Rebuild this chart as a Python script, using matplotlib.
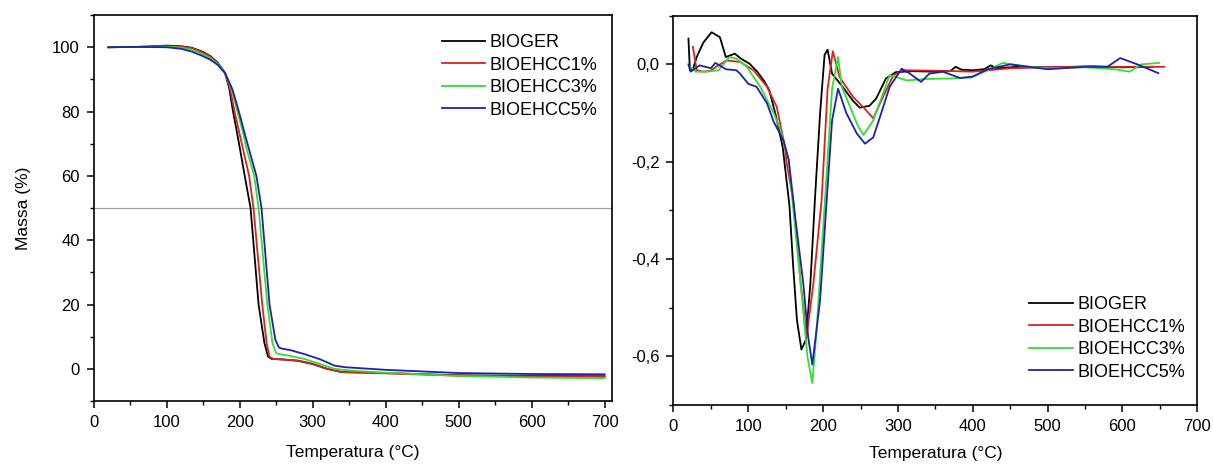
import matplotlib
matplotlib.use("Agg")
import matplotlib.pyplot as plt
from matplotlib.ticker import MultipleLocator, FuncFormatter

plt.rcParams['font.family'] = ['Liberation Sans', 'DejaVu Sans']

names = ["BIOGER", "BIOEHCC1%", "BIOEHCC3%", "BIOEHCC5%"]
colors = ["black", "#d8231f", "#33dd33", "#1f1fb0"]

# TGA (left) - temperature (°C) and mass (%)
tga_t_bioger = [20, 60, 100, 120, 135, 150, 160, 170, 180, 186, 191, 196, 200, 207, 215, 226, 234, 239, 244, 260, 280, 300, 320, 340, 400, 500, 600, 700]
tga_m_bioger = [100, 100.1, 100.5, 100.3, 99.8, 98.5, 97.2, 95.2, 92, 87, 80, 74, 69, 60, 50, 20, 8, 3.8, 3.1, 2.9, 2.5, 1.5, 0, -1.0, -1.3, -2.0, -2.2, -2.3]
tga_t_ehcc1 = [20, 60, 100, 120, 135, 150, 160, 170, 180, 187, 193, 199, 205, 213, 219, 231, 237, 241, 246, 260, 280, 300, 320, 340, 400, 500, 600, 700]
tga_m_ehcc1 = [100, 100.1, 100.3, 100.2, 99.7, 98.3, 97.0, 95.0, 92, 87, 80, 74, 68, 60, 50, 20, 8, 3.8, 3.1, 2.9, 2.6, 1.6, 0, -1.0, -1.4, -2.1, -2.3, -2.4]
tga_t_ehcc3 = [20, 60, 100, 120, 135, 150, 160, 170, 180, 189, 197, 204, 210, 220, 226, 238, 245, 250, 256, 270, 290, 310, 330, 350, 400, 500, 600, 700]
tga_m_ehcc3 = [100, 100.1, 100.2, 99.9, 99.2, 97.8, 96.6, 94.8, 92, 87, 80, 74, 68, 60, 50, 20, 8, 4.9, 4.5, 4.0, 3.0, 1.5, 0, -0.5, -1.2, -2.2, -2.7, -2.9]
tga_t_ehcc5 = [20, 60, 100, 120, 135, 150, 160, 170, 180, 190, 199, 206, 212, 223, 230, 241, 249, 254, 258, 270, 290, 310, 330, 345, 400, 500, 600, 700]
tga_m_ehcc5 = [100, 100.1, 100.0, 99.5, 98.6, 97.2, 96.1, 94.5, 92, 87, 80, 74, 69, 60, 50, 20, 9, 6.6, 6.3, 5.8, 4.5, 3.0, 1.0, 0.5, -0.3, -1.3, -1.6, -1.7]

# DTG (right)
dtg_t_bioger = [20, 22, 26, 31, 40, 51, 62, 70, 82, 90, 102, 112, 122, 128, 136, 146, 155, 160, 165, 171, 177, 183, 189, 196, 202, 206, 212, 226, 240, 249, 262, 271, 284, 297, 320, 350, 370, 377, 385, 400, 415, 424, 432, 460, 500, 560, 600, 640]
dtg_v_bioger = [0.053, -0.012, -0.010, 0.015, 0.045, 0.066, 0.056, 0.015, 0.022, 0.012, 0.001, -0.015, -0.036, -0.053, -0.10, -0.17, -0.29, -0.415, -0.525, -0.586, -0.566, -0.45, -0.279, -0.10, 0.02, 0.030, -0.019, -0.046, -0.075, -0.089, -0.085, -0.070, -0.029, -0.016, -0.014, -0.015, -0.014, -0.005, -0.011, -0.012, -0.010, -0.002, -0.008, -0.005, -0.006, -0.004, -0.006, -0.005]
dtg_t_ehcc1 = [26, 31, 40, 50, 60, 71, 89, 107, 125, 138, 149, 151, 160, 170, 178, 187, 198, 206, 213, 222, 240, 255, 267, 280, 294, 307, 350, 400, 450, 500, 550, 600, 656]
dtg_v_ehcc1 = [0.036, -0.012, -0.015, -0.013, -0.002, 0.008, 0.005, -0.012, -0.046, -0.087, -0.17, -0.20, -0.279, -0.45, -0.559, -0.45, -0.279, -0.05, 0.027, -0.026, -0.067, -0.090, -0.111, -0.067, -0.022, -0.012, -0.013, -0.015, -0.008, -0.006, -0.005, -0.005, -0.005]
dtg_t_ehcc3 = [22, 30, 45, 60, 75, 84, 98, 116, 134, 143, 154, 159, 170, 179, 185.6, 191, 202.5, 212, 220, 225, 236, 246, 254, 267, 280, 289, 298, 311, 338, 370, 398, 420, 440, 470, 500, 550, 590, 610, 625, 649]
dtg_v_ehcc3 = [-0.005, -0.015, -0.015, -0.012, 0.015, 0.012, -0.005, -0.046, -0.10, -0.135, -0.196, -0.279, -0.45, -0.60, -0.655, -0.552, -0.279, -0.05, 0.015, -0.046, -0.087, -0.125, -0.145, -0.115, -0.06, -0.022, -0.026, -0.033, -0.030, -0.029, -0.027, -0.012, 0.003, -0.004, -0.008, -0.006, -0.010, -0.015, 0.0, 0.003]
dtg_t_ehcc5 = [20, 23, 35, 50, 56, 70, 84, 89, 100, 111, 125, 134, 147, 154, 162.4, 173.5, 180, 185.6, 196, 204.8, 212, 220, 231, 245, 256, 267, 276, 289, 305, 316, 331, 342, 360, 383, 400, 420, 450, 500, 550, 580, 597, 620, 648]
dtg_v_ehcc5 = [0.0, -0.015, -0.002, -0.008, 0.003, -0.010, -0.012, -0.019, -0.040, -0.046, -0.08, -0.118, -0.156, -0.196, -0.31, -0.45, -0.56, -0.617, -0.484, -0.279, -0.115, -0.05, -0.10, -0.142, -0.163, -0.15, -0.108, -0.046, -0.009, -0.019, -0.036, -0.019, -0.015, -0.028, -0.025, -0.010, 0.0, -0.010, -0.005, -0.005, 0.013, 0.0, -0.018]

fig = plt.figure(figsize=(12.13, 4.65), dpi=100)
ax1 = fig.add_axes([0.0772, 0.1376, 0.4272, 0.830])
ax2 = fig.add_axes([0.5552, 0.129, 0.4318, 0.8372])

tga = [(tga_t_bioger, tga_m_bioger), (tga_t_ehcc1, tga_m_ehcc1),
       (tga_t_ehcc3, tga_m_ehcc3), (tga_t_ehcc5, tga_m_ehcc5)]
dtg = [(dtg_t_bioger, dtg_v_bioger), (dtg_t_ehcc1, dtg_v_ehcc1),
       (dtg_t_ehcc3, dtg_v_ehcc3), (dtg_t_ehcc5, dtg_v_ehcc5)]

ax1.axhline(50, color="#a0a0a0", lw=0.9, zorder=1)
for (t, m), c, n in zip(tga, colors, names):
    ax1.plot(t, m, color=c, lw=1.3, label=n)
for (t, v), c, n in zip(dtg, colors, names):
    ax2.plot(t, v, color=c, lw=1.3, label=n)

ax1.set_xlim(0, 710)
ax1.set_ylim(-10, 110)
ax1.xaxis.set_major_locator(MultipleLocator(100))
ax1.xaxis.set_minor_locator(MultipleLocator(50))
ax1.yaxis.set_major_locator(MultipleLocator(20))
ax1.yaxis.set_minor_locator(MultipleLocator(10))
ax1.set_xlabel("Temperatura (°C)", fontsize=12.5, labelpad=11)
ax1.set_ylabel("Massa (%)", fontsize=12.5, labelpad=15)

ax2.set_xlim(0, 700)
ax2.set_ylim(-0.7, 0.1)
ax2.xaxis.set_major_locator(MultipleLocator(100))
ax2.xaxis.set_minor_locator(MultipleLocator(50))
ax2.yaxis.set_major_locator(MultipleLocator(0.2))
ax2.yaxis.set_minor_locator(MultipleLocator(0.1))
ax2.yaxis.set_major_formatter(FuncFormatter(lambda v, p: f"{v:.1f}".replace(".", ",").replace("-0,0", "0,0")))
ax2.set_xlabel("Temperatura (°C)", fontsize=12.5, labelpad=9)

for ax in (ax1, ax2):
    for s in ax.spines.values():
        s.set_linewidth(1.2)
    ax.tick_params(which="major", direction="out", length=5, width=1.1, labelsize=12, pad=5)
    ax.tick_params(which="minor", direction="out", length=3, width=1.0)

leg_kw = dict(frameon=False, fontsize=13, handlelength=2.4, handletextpad=0.25, labelspacing=0.3)
ax1.legend(loc="upper right", bbox_to_anchor=(0.993, 0.978), borderaxespad=0.2, **leg_kw)
ax2.legend(loc="lower right", bbox_to_anchor=(0.997, 0.035), borderaxespad=0.2, **leg_kw)

fig.savefig("out.png", dpi=100)
